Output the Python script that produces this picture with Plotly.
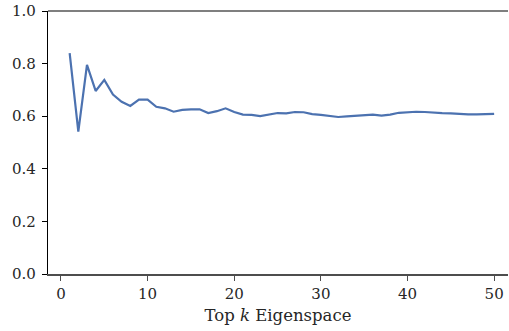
import plotly.graph_objects as go

# Top-k eigenspace sizes and the corresponding scores
k_values = list(range(1, 51))
scores = [
    0.840, 0.541, 0.795, 0.696, 0.738, 0.682, 0.655, 0.639, 0.663, 0.663,
    0.636, 0.630, 0.617, 0.624, 0.626, 0.626, 0.612, 0.619, 0.630, 0.616,
    0.606, 0.605, 0.600, 0.606, 0.612, 0.611, 0.616, 0.615, 0.608, 0.605,
    0.601, 0.597, 0.599, 0.601, 0.603, 0.606, 0.602, 0.606, 0.613, 0.616,
    0.617, 0.616, 0.613, 0.612, 0.611, 0.608, 0.607, 0.607, 0.608, 0.609,
]
x_ticks = [0, 10, 20, 30, 40, 50]
y_ticks = [0.0, 0.2, 0.4, 0.6, 0.8, 1.0]

serif = "DejaVu Serif"
tick_font = dict(family=serif, size=15, color="#262626")

fig = go.Figure()
fig.add_trace(go.Scatter(
    x=k_values, y=scores, mode="lines",
    line=dict(color="#4c72b0", width=2.2),
    showlegend=False,
))

fig.update_layout(
    width=509, height=331,
    margin=dict(l=48, r=1, t=11, b=57),
    paper_bgcolor="white", plot_bgcolor="white",
    font=tick_font,
)
fig.update_xaxes(
    range=[-1.5, 51.6],
    tickvals=x_ticks, ticktext=[str(v) for v in x_ticks],
    showgrid=False, zeroline=False,
    showline=True, linecolor="#4d4d4d", linewidth=1.5,
    ticks="outside", ticklen=5, tickwidth=1.2, tickcolor="#4d4d4d",
    tickfont=tick_font,
    title=dict(text="Top <i>k</i> Eigenspace", standoff=8,
               font=dict(family=serif, size=16.5, color="#262626")),
)
fig.update_yaxes(
    range=[0, 1],
    tickvals=y_ticks, ticktext=[f"{v:.1f}" for v in y_ticks],
    showgrid=False, zeroline=False,
    showline=True, linecolor="black", linewidth=1.2,
    ticks="outside", ticklen=5, tickwidth=1.2, tickcolor="black",
    ticklabelstandoff=3,
    tickfont=tick_font,
)
# top border of the axes box
fig.add_shape(type="line", xref="paper", yref="paper",
              x0=0, x1=1, y0=1, y1=1,
              line=dict(color="black", width=1.2))

fig.write_html("out.html")
